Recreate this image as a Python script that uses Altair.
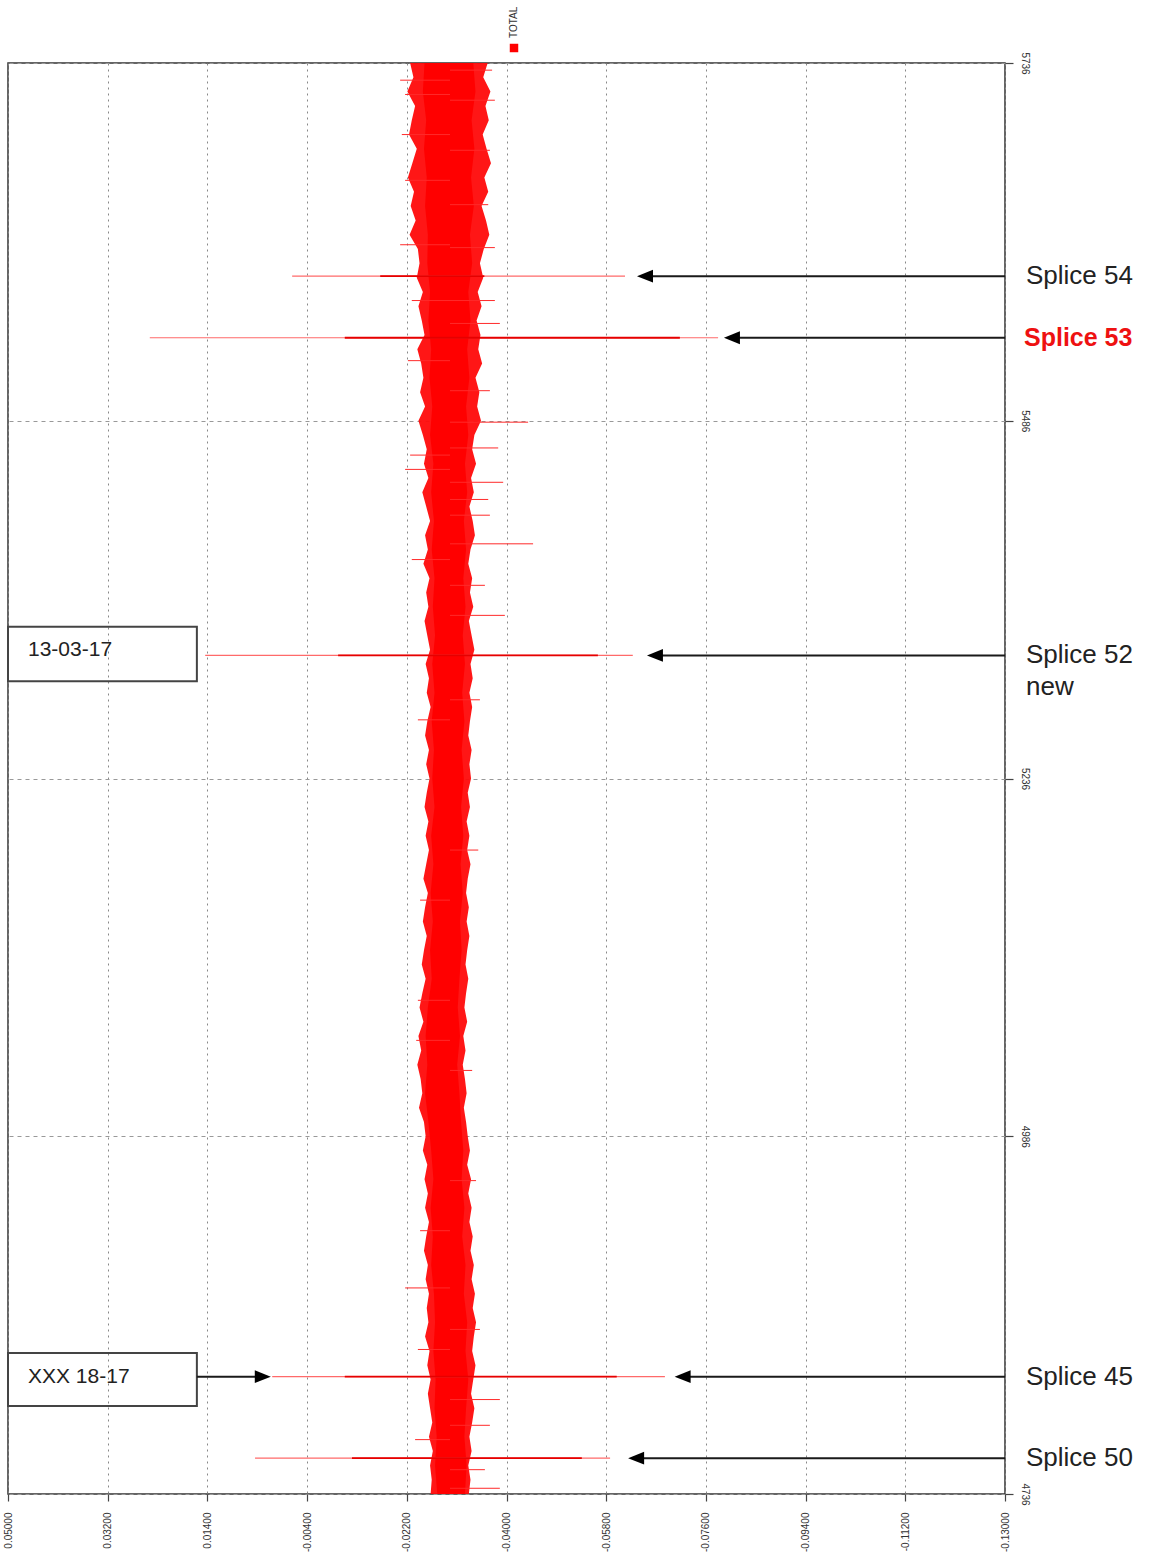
import altair as alt
import pandas as pd

# Axis ticks
X_TICKS = [0.05, 0.032, 0.014, -0.004, -0.022, -0.04, -0.058, -0.076, -0.094, -0.112, -0.13]
Y_TICKS = [4736, 4986, 5236, 5486, 5736]

# Outer (fringe) envelope of the TOTAL trace, every 10 m from 5736 down to 4736
FRINGE_DEPTHS = list(range(5736, 4735, -10))
FRINGE_LEFT = [
    -0.0226, -0.0232, -0.0221, -0.0235, -0.0229, -0.0224, -0.0238, -0.0230, -0.0222, -0.0233,
    -0.0227, -0.0236, -0.0225, -0.0240, -0.0243, -0.0238, -0.0249, -0.0241, -0.0247, -0.0252,
    -0.0239, -0.0246, -0.0250, -0.0244, -0.0253, -0.0241, -0.0249, -0.0256, -0.0251, -0.0259,
    -0.0248, -0.0255, -0.0262, -0.0253, -0.0258, -0.0250, -0.0261, -0.0255, -0.0259, -0.0252,
    -0.0257, -0.0262, -0.0254, -0.0260, -0.0256, -0.0263, -0.0257, -0.0253, -0.0260, -0.0255,
    -0.0261, -0.0256, -0.0252, -0.0259, -0.0254, -0.0260, -0.0255, -0.0250, -0.0258, -0.0253,
    -0.0249, -0.0256, -0.0251, -0.0247, -0.0254, -0.0248, -0.0243, -0.0250, -0.0241, -0.0246,
    -0.0239, -0.0245, -0.0248, -0.0242, -0.0251, -0.0254, -0.0249, -0.0257, -0.0252, -0.0258,
    -0.0253, -0.0260, -0.0255, -0.0251, -0.0258, -0.0254, -0.0260, -0.0256, -0.0259, -0.0253,
    -0.0261, -0.0257, -0.0263, -0.0258, -0.0262, -0.0266, -0.0260, -0.0267, -0.0262, -0.0265,
    -0.0263,
]
FRINGE_RIGHT = [
    -0.0366, -0.0358, -0.0371, -0.0362, -0.0368, -0.0357, -0.0364, -0.0372, -0.0360, -0.0367,
    -0.0355, -0.0363, -0.0369, -0.0359, -0.0352, -0.0358, -0.0348, -0.0355, -0.0346, -0.0353,
    -0.0349, -0.0356, -0.0344, -0.0351, -0.0347, -0.0354, -0.0342, -0.0338, -0.0345, -0.0336,
    -0.0341, -0.0333, -0.0339, -0.0343, -0.0335, -0.0331, -0.0338, -0.0334, -0.0340, -0.0332,
    -0.0337, -0.0342, -0.0335, -0.0339, -0.0333, -0.0338, -0.0334, -0.0331, -0.0337, -0.0333,
    -0.0336, -0.0330, -0.0334, -0.0328, -0.0333, -0.0329, -0.0335, -0.0330, -0.0327, -0.0332,
    -0.0328, -0.0333, -0.0329, -0.0326, -0.0331, -0.0327, -0.0324, -0.0329, -0.0322, -0.0326,
    -0.0321, -0.0325, -0.0328, -0.0323, -0.0327, -0.0330, -0.0334, -0.0329, -0.0336, -0.0331,
    -0.0337, -0.0333, -0.0339, -0.0335, -0.0341, -0.0337, -0.0343, -0.0339, -0.0345, -0.0341,
    -0.0338, -0.0344, -0.0340, -0.0336, -0.0342, -0.0338, -0.0333, -0.0337, -0.0331, -0.0335,
    -0.0332,
]

# Solid core of the trace, every 20 m
CORE_DEPTHS = list(range(5736, 4735, -20))
CORE_LEFT = [
    -0.0252, -0.0249, -0.0255, -0.0251, -0.0256, -0.0253, -0.0258, -0.0257, -0.0262, -0.0259,
    -0.0264, -0.0261, -0.0266, -0.0262, -0.0268, -0.0264, -0.0269, -0.0265, -0.0270, -0.0267,
    -0.0271, -0.0266, -0.0270, -0.0265, -0.0269, -0.0266, -0.0270, -0.0264, -0.0268, -0.0263,
    -0.0267, -0.0262, -0.0265, -0.0258, -0.0254, -0.0257, -0.0253, -0.0259, -0.0264, -0.0268,
    -0.0263, -0.0267, -0.0264, -0.0269, -0.0271, -0.0268, -0.0272, -0.0270, -0.0274, -0.0271,
    -0.0275,
]
CORE_RIGHT = [
    -0.0340, -0.0344, -0.0337, -0.0342, -0.0336, -0.0341, -0.0334, -0.0338, -0.0331, -0.0335,
    -0.0329, -0.0333, -0.0327, -0.0331, -0.0325, -0.0329, -0.0323, -0.0327, -0.0322, -0.0326,
    -0.0321, -0.0325, -0.0320, -0.0324, -0.0319, -0.0323, -0.0318, -0.0322, -0.0317, -0.0321,
    -0.0316, -0.0319, -0.0315, -0.0312, -0.0316, -0.0311, -0.0315, -0.0318, -0.0322, -0.0319,
    -0.0324, -0.0320, -0.0326, -0.0323, -0.0329, -0.0326, -0.0331, -0.0327, -0.0324, -0.0328,
    -0.0325,
]

# Isolated excursions of the trace beyond the fringe: depth and far end
SPIKE_DEPTHS = [
    5731, 5724, 5714, 5710, 5686, 5675, 5654, 5637, 5609, 5607, 5570, 5570, 5554,
    5528, 5507, 5485, 5467, 5462, 5452, 5443, 5431, 5420, 5400, 5389, 5371, 5350,
    5291, 5277, 5186, 5151, 5081, 5053, 5032, 4955, 4920, 4880, 4851, 4837, 4802,
    4784, 4774, 4753, 4740,
]
SPIKE_ENDS = [
    -0.0374, -0.0208, -0.0217, -0.0379, -0.0211, -0.0370, -0.0217, -0.0367, -0.0208, -0.0379,
    -0.0229, -0.0379, -0.0388, -0.0222, -0.0370, -0.0439, -0.0385, -0.0226, -0.0217, -0.0394,
    -0.0367, -0.0370, -0.0448, -0.0229, -0.0361, -0.0397, -0.0352, -0.0240, -0.0349, -0.0244,
    -0.0240, -0.0237, -0.0338, -0.0345, -0.0244, -0.0217, -0.0352, -0.0240, -0.0388, -0.0370,
    -0.0235, -0.0361, -0.0388,
]
TRACE_CENTER = -0.0298

# Splice signatures: depth, full reach and the stronger core of each pulse
SPLICE_NAMES = ["Splice 54", "Splice 53", "Splice 52", "Splice 45", "Splice 50"]
SPLICE_DEPTHS = [5587, 5544, 5322, 4818, 4761]
SPLICE_OUTER_LO = [-0.0013, 0.0244, 0.0144, 0.0023, 0.0054]
SPLICE_OUTER_HI = [-0.0614, -0.0782, -0.0628, -0.0686, -0.0587]
SPLICE_INNER_LO = [-0.0172, -0.0108, -0.0096, -0.0108, -0.0121]
SPLICE_INNER_HI = [-0.0360, -0.0713, -0.0565, -0.0599, -0.0536]
ARROW_TIPS = [-0.0650, -0.0807, -0.0668, -0.0718, -0.0634]
SPLICE_HIGHLIGHT = [False, True, False, False, False]

# Boxed notes on the left
NOTE_TEXT = ["13-03-17", "XXX 18-17"]
NOTE_TOP = [5342, 4834.5]
NOTE_BOTTOM = [5304, 4797.5]
NOTE_TEXT_DEPTH = [5326, 4818]
NOTE_BOX_RIGHT = 0.0159
NOTE_ARROW_TIP = 0.0040

FONT = "Liberation Sans"
NARROW = "Liberation Sans Narrow, Liberation Sans, Arial"
TICK_LABEL = "replace(format(datum.value, '.5f'), '\u2212', '-')"

x_scale = alt.Scale(domain=[0.05, -0.13], nice=False, zero=False)
y_scale = alt.Scale(domain=[4736, 5736], nice=False, zero=False)

x_axis = alt.Axis(
    values=X_TICKS, labelExpr=TICK_LABEL, orient="bottom", title=None,
    labelAngle=270, labelAlign="right", labelBaseline="middle",
    labelFont=NARROW, labelFontSize=10, labelColor="#333",
    labelPadding=11, tickSize=7, tickColor="#444", tickWidth=1.2,
    domain=False, grid=True, gridColor="#888", gridDash=[2, 4], gridWidth=1,
    labelOverlap=False,
)
y_axis = alt.Axis(
    values=Y_TICKS, format="d", orient="right", title=None,
    labelAngle=90, labelAlign="center", labelBaseline="bottom",
    labelFont=NARROW, labelFontSize=10, labelColor="#333",
    labelPadding=6, tickSize=8, tickColor="#444", tickWidth=1.2,
    domain=False, grid=True, gridColor="#999", gridDash=[4, 4], gridWidth=1,
    labelOverlap=False,
)

fringe_df = pd.DataFrame({"depth": FRINGE_DEPTHS, "left": FRINGE_LEFT, "right": FRINGE_RIGHT})
core_df = pd.DataFrame({"depth": CORE_DEPTHS, "left": CORE_LEFT, "right": CORE_RIGHT})
spike_df = pd.DataFrame({
    "depth": SPIKE_DEPTHS, "lo": [TRACE_CENTER] * len(SPIKE_DEPTHS), "hi": SPIKE_ENDS,
})
splice_df = pd.DataFrame({
    "name": SPLICE_NAMES, "depth": SPLICE_DEPTHS,
    "olo": SPLICE_OUTER_LO, "ohi": SPLICE_OUTER_HI,
    "ilo": SPLICE_INNER_LO, "ihi": SPLICE_INNER_HI,
    "tip": ARROW_TIPS, "end": [-0.13] * len(SPLICE_NAMES),
    "highlight": SPLICE_HIGHLIGHT,
})
note_df = pd.DataFrame({
    "text": NOTE_TEXT, "top": NOTE_TOP, "bottom": NOTE_BOTTOM,
    "tdepth": NOTE_TEXT_DEPTH, "left": [0.05, 0.05], "right": [NOTE_BOX_RIGHT] * 2,
})

Y = lambda f="depth": alt.Y(f"{f}:Q", scale=y_scale)

fringe = alt.Chart(fringe_df).mark_area(
    orient="horizontal", color="#ff0a0a", opacity=0.95
).encode(
    y=alt.Y("depth:Q", scale=y_scale, axis=y_axis),
    x=alt.X("left:Q", scale=x_scale, axis=x_axis),
    x2="right:Q",
)
core = alt.Chart(core_df).mark_area(orient="horizontal", color="#ff0000").encode(
    y=Y(), x=alt.X("left:Q", scale=x_scale), x2="right:Q"
)

spikes = alt.Chart(spike_df).mark_rule(color="#ff2a2a", strokeWidth=1).encode(
    y=Y(), x=alt.X("lo:Q", scale=x_scale), x2="hi:Q"
)

splice_outer = alt.Chart(splice_df).mark_rule(color="#ff6a6a", strokeWidth=1.2).encode(
    y=Y(), x=alt.X("olo:Q", scale=x_scale), x2="ohi:Q"
)
splice_inner = alt.Chart(splice_df).mark_rule(color="#e60000", strokeWidth=1.8).encode(
    y=Y(), x=alt.X("ilo:Q", scale=x_scale), x2="ihi:Q"
)

arrow_lines = alt.Chart(splice_df).mark_rule(color="#1a1a1a", strokeWidth=2).encode(
    y=Y(), x=alt.X("tip:Q", scale=x_scale), x2="end:Q"
)
arrow_heads = alt.Chart(splice_df).mark_point(
    shape="M-1,0L1,-0.8L1,0.8Z", filled=True, size=256, color="#000000", opacity=1
).encode(y=Y(), x=alt.X("tip:Q", scale=x_scale))

splice_labels = alt.Chart(splice_df).transform_filter(
    "!datum.highlight"
).mark_text(
    align="left", baseline="middle", font=FONT, fontSize=26, color="#222222"
).encode(y=Y(), x=alt.value(1018), text="name:N")

splice_labels_hot = alt.Chart(splice_df).transform_filter(
    "datum.highlight"
).mark_text(
    align="left", baseline="middle", font=FONT, fontSize=25, fontWeight="bold", color="#ee1111"
).encode(y=Y(), x=alt.value(1016), text="name:N")

new_label = alt.Chart(pd.DataFrame({"depth": [SPLICE_DEPTHS[2]], "t": ["new"]})).mark_text(
    align="left", baseline="middle", font=FONT, fontSize=26, color="#222222", dy=32
).encode(y=Y(), x=alt.value(1018), text="t:N")

note_boxes = alt.Chart(note_df).mark_rect(
    filled=False, stroke="#444444", strokeWidth=2
).encode(
    x=alt.X("left:Q", scale=x_scale), x2="right:Q",
    y=Y("top"), y2="bottom:Q",
)
note_text = alt.Chart(note_df).mark_text(
    align="left", baseline="middle", font=FONT, fontSize=21, color="#222222", dx=20
).encode(x=alt.X("left:Q", scale=x_scale), y=Y("tdepth"), text="text:N")

note_arrow_df = pd.DataFrame({"depth": [SPLICE_DEPTHS[3]], "a": [NOTE_BOX_RIGHT], "b": [NOTE_ARROW_TIP]})
note_arrow = alt.Chart(note_arrow_df).mark_rule(color="#1a1a1a", strokeWidth=2).encode(
    y=Y(), x=alt.X("a:Q", scale=x_scale), x2="b:Q"
)
note_head = alt.Chart(note_arrow_df).mark_point(
    shape="M1,0L-1,-0.8L-1,0.8Z", filled=True, size=256, color="#000000", opacity=1
).encode(y=Y(), x=alt.X("b:Q", scale=x_scale))

# Series key above the plot
legend_df = pd.DataFrame({"t": ["TOTAL"]})
legend_swatch = alt.Chart(legend_df).mark_square(color="#ff0000", size=72, opacity=1).encode(
    x=alt.value(506), y=alt.value(-15)
)
legend_text = alt.Chart(legend_df).mark_text(
    angle=270, align="left", baseline="middle", font=NARROW, fontSize=10, color="#333"
).encode(x=alt.value(506), y=alt.value(-25), text="t:N")

chart = alt.layer(
    fringe, core, spikes, splice_outer, splice_inner,
    arrow_lines, arrow_heads, splice_labels, splice_labels_hot, new_label,
    note_boxes, note_text, note_arrow, note_head,
    legend_swatch, legend_text,
).properties(
    width=997, height=1431,
    autosize=alt.AutoSizeParams(type="none"),
    padding={"left": 8, "top": 63, "right": 147, "bottom": 62},
    background="white",
).configure_view(stroke="#333333", strokeWidth=1.5)

chart.save("out.html", embed_options={"renderer": "svg", "actions": False})
